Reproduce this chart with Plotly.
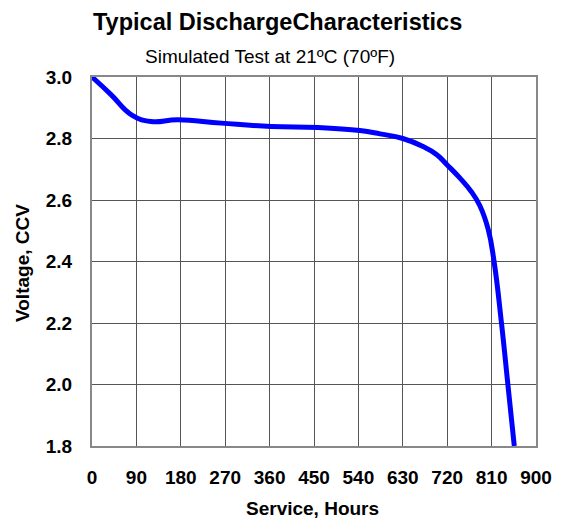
import plotly.graph_objects as go

hours = [0, 39, 80, 120, 174, 262, 363, 458, 543, 584, 630, 671, 699, 720,
         746, 769, 786, 803, 815, 830, 843, 856]
volts = [3.0, 2.942, 2.877, 2.855, 2.861, 2.850, 2.839, 2.836, 2.826, 2.815,
         2.800, 2.774, 2.747, 2.714, 2.671, 2.627, 2.582, 2.505, 2.40, 2.20,
         2.00, 1.80]

x_ticks = [0, 90, 180, 270, 360, 450, 540, 630, 720, 810, 900]
y_ticks = [1.8, 2.0, 2.2, 2.4, 2.6, 2.8, 3.0]
y_labels = ["1.8", "2.0", "2.2", "2.4", "2.6", "2.8", "3.0"]

title = "Typical DischargeCharacteristics"
subtitle = "Simulated Test at 21ºC (70ºF)"
x_title = "Service, Hours"
y_title = "Voltage, CCV"

FONT = "Liberation Sans, Arial, sans-serif"

# page has an 8px body margin; figure is sized so the plot lands where the reference has it
W, H = 555, 512
L, R, T, B = 84, 27, 69, 74
PW, PH = W - L - R, H - T - B


def px_x(x):
    return (x - 8 - L) / PW


def px_y(y):
    return 1 - (y - 8 - T) / PH


fig = go.Figure()
fig.add_trace(go.Scatter(
    x=hours, y=volts, mode="lines",
    line=dict(color="#0000FF", width=5, shape="spline", smoothing=1.3),
    hoverinfo="skip", showlegend=False,
))

fig.update_layout(
    width=W, height=H,
    margin=dict(l=L, r=R, t=T, b=B),
    paper_bgcolor="white", plot_bgcolor="white",
    font=dict(family=FONT, color="black"),
    showlegend=False,
    xaxis=dict(
        range=[0, 900], tickvals=x_ticks, ticktext=[str(v) for v in x_ticks],
        showgrid=True, gridcolor="#555555", gridwidth=1,
        showline=True, linecolor="#888888", linewidth=2, mirror=True,
        zeroline=False, ticks="", ticklabelstandoff=13,
        tickfont=dict(family=FONT, size=19, color="black", weight="bold"),
        fixedrange=True,
    ),
    yaxis=dict(
        range=[1.8, 3.0], tickvals=y_ticks, ticktext=y_labels,
        showgrid=True, gridcolor="#555555", gridwidth=1,
        showline=True, linecolor="#888888", linewidth=2, mirror=True,
        zeroline=False, ticks="", ticklabelstandoff=14,
        tickfont=dict(family=FONT, size=19, color="black", weight="bold"),
        fixedrange=True,
    ),
    annotations=[
        dict(text="<b>" + title + "</b>", xref="paper", yref="paper",
             x=px_x(277), y=px_y(22), xanchor="center", yanchor="middle",
             showarrow=False, font=dict(family=FONT, size=23.5, color="black")),
        dict(text=subtitle, xref="paper", yref="paper",
             x=px_x(270), y=px_y(57), xanchor="center", yanchor="middle",
             showarrow=False, font=dict(family=FONT, size=19, color="black")),
        dict(text="<b>" + x_title + "</b>", xref="paper", yref="paper",
             x=px_x(312), y=px_y(508), xanchor="center", yanchor="middle",
             showarrow=False, font=dict(family=FONT, size=19, color="black")),
        dict(text="<b>" + y_title + "</b>", xref="paper", yref="paper",
             x=px_x(22), y=px_y(263), xanchor="center", yanchor="middle",
             textangle=-90, showarrow=False, font=dict(family=FONT, size=19, color="black")),
    ],
)

fig.write_html("out.html", config={"displayModeBar": False})
